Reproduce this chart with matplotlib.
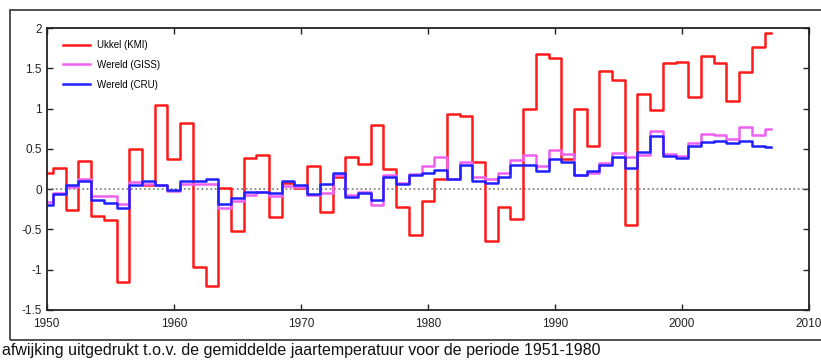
import matplotlib.pyplot as plt
from matplotlib.patches import Rectangle

plt.rcParams['font.family'] = ['Liberation Sans', 'DejaVu Sans']

# Jaartemperatuur-afwijking t.o.v. 1951-1980
years = list(range(1950, 2008))

ukkel_kmi = [0.20, 0.26, -0.26, 0.35, -0.33, -0.38, -1.15, 0.50, 0.05, 1.04,
             0.38, 0.82, -0.97, -1.20, 0.02, -0.52, 0.39, 0.42, -0.34, 0.08,
             0.02, 0.29, -0.28, 0.15, 0.40, 0.31, 0.80, 0.25, -0.22, -0.57,
             -0.15, 0.13, 0.93, 0.91, 0.34, -0.64, -0.22, -0.37, 0.99, 1.68,
             1.63, 0.38, 0.99, 0.53, 1.47, 1.35, -0.44, 1.18, 0.98, 1.56,
             1.58, 1.14, 1.65, 1.56, 1.09, 1.45, 1.76, 1.94]

wereld_giss = [-0.16, -0.05, 0.03, 0.13, -0.09, -0.08, -0.18, 0.09, 0.06, 0.05,
               -0.02, 0.07, 0.07, 0.06, -0.24, -0.15, -0.07, -0.04, -0.09, 0.04,
               0.03, -0.07, -0.05, 0.17, -0.07, -0.03, -0.20, 0.18, 0.08, 0.19,
               0.29, 0.40, 0.12, 0.34, 0.15, 0.12, 0.20, 0.36, 0.42, 0.29,
               0.49, 0.44, 0.17, 0.20, 0.33, 0.45, 0.40, 0.42, 0.72, 0.44,
               0.41, 0.57, 0.69, 0.67, 0.62, 0.77, 0.67, 0.75]

wereld_cru = [-0.20, -0.06, 0.05, 0.10, -0.14, -0.17, -0.24, 0.05, 0.10, 0.05,
              -0.01, 0.10, 0.10, 0.12, -0.18, -0.11, -0.04, -0.04, -0.05, 0.10,
              0.05, -0.06, 0.07, 0.20, -0.10, -0.05, -0.14, 0.15, 0.06, 0.17,
              0.20, 0.24, 0.13, 0.30, 0.10, 0.08, 0.15, 0.30, 0.30, 0.23,
              0.37, 0.34, 0.18, 0.22, 0.30, 0.40, 0.26, 0.46, 0.66, 0.41,
              0.39, 0.53, 0.58, 0.60, 0.57, 0.60, 0.54, 0.52]

fig = plt.figure(figsize=(8.21, 3.61), dpi=100)
ax = fig.add_axes([0.0569, 0.1413, 0.9285, 0.7811])

ax.axhline(0, color='#777777', linestyle=':', linewidth=1.2)
ax.step(years, ukkel_kmi, where='mid', color='#ff1a1a', linewidth=1.8, label='Ukkel (KMI)')
ax.step(years, wereld_giss, where='mid', color='#f060f0', linewidth=1.8, label='Wereld (GISS)')
ax.step(years, wereld_cru, where='mid', color='#2020ff', linewidth=1.8, label='Wereld (CRU)')

ax.set_xlim(1950, 2010)
ax.set_ylim(-1.5, 2)
ax.set_xticks([1950, 1960, 1970, 1980, 1990, 2000, 2010])
ax.set_yticks([-1.5, -1, -0.5, 0, 0.5, 1, 1.5, 2])
ax.set_yticklabels(['-1.5', '-1', '-0.5', '0', '0.5', '1', '1.5', '2'])
ax.tick_params(direction='in', top=True, right=True, length=4, width=1,
               labelsize=8.5, colors='#222222')
ax.tick_params(axis='x', pad=6)
for s in ax.spines.values():
    s.set_linewidth(1.3)
    s.set_color('#222222')

ax.legend(loc='upper left', frameon=False, fontsize=7, handlelength=2.8,
          handletextpad=0.7, borderpad=0, borderaxespad=0, labelspacing=1.0,
          bbox_to_anchor=(0.021, 0.957))

# outer frame around the figure
fig.patches.append(Rectangle((10 / 821, 1 - 340 / 361), 1.2, 330 / 361,
                             transform=fig.transFigure, fill=False,
                             edgecolor='#333333', linewidth=1.2))

fig.text(0.002, 0.03, 'afwijking uitgedrukt t.o.v. de gemiddelde jaartemperatuur voor de periode 1951-1980',
         fontsize=11.5, va='center', ha='left', color='#111111')

fig.savefig('out.png', dpi=100)
